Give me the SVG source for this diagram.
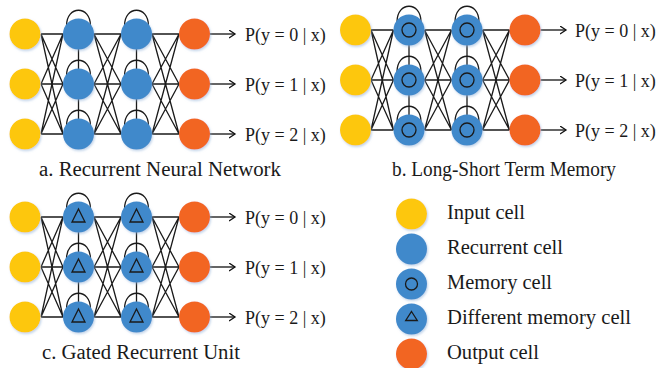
<svg xmlns="http://www.w3.org/2000/svg" width="657" height="368" viewBox="0 0 657 368">
<defs>
<filter id="sh" x="-30%" y="-30%" width="160%" height="160%">
<feDropShadow dx="1" dy="1.5" stdDeviation="1.2" flood-color="#8fb0d8" flood-opacity="0.55"/>
</filter>
<marker id="ah" markerUnits="userSpaceOnUse" markerWidth="10" markerHeight="10" refX="6.5" refY="4.5" orient="auto">
<path d="M0.5,0.5 L6.5,4.5 L0.5,8.5" fill="none" stroke="#111" stroke-width="1.3"/>
</marker>
</defs>
<style>
.in{fill:#FDC70C;filter:url(#sh)}
.rc{fill:#4189CB;filter:url(#sh)}
.out{fill:#F26522;filter:url(#sh)}
.ln{fill:none;stroke:#1a1a1a;stroke-width:1.3}
.sym{fill:none;stroke:#1a1a1a;stroke-width:1.3}
.ar{fill:none;stroke:#111;stroke-width:1.3;marker-end:url(#ah)}
.lab{font-family:"Liberation Serif","Times New Roman",serif;font-size:18px;fill:#1a1a1a}
.cap{font-family:"Liberation Serif","Times New Roman",serif;font-size:20px;fill:#1a1a1a}
</style>
<rect width="657" height="368" fill="#fff"/>

<g id="connectors">
<!-- panel a -->
<path class="ln" d="M41,34L63,34M41,34L63,84M41,34L63,134M41,84L63,34M41,84L63,84M41,84L63,134M41,134L63,34M41,134L63,84M41,134L63,134"/>
<path class="ln" d="M94,34L121,34M94,34L121,84M94,34L121,134M94,84L121,34M94,84L121,84M94,84L121,134M94,134L121,34M94,134L121,84M94,134L121,134"/>
<path class="ln" d="M152,34L179,34M152,34L179,84M152,34L179,134M152,84L179,34M152,84L179,84M152,84L179,134M152,134L179,34M152,134L179,84M152,134L179,134"/>
<path class="ln" d="M66.5,26C66.5,5 90.5,5 90.5,26M66.5,76C66.5,55 90.5,55 90.5,76M66.5,126C66.5,105 90.5,105 90.5,126M124.5,26C124.5,5 148.5,5 148.5,26M124.5,76C124.5,55 148.5,55 148.5,76M124.5,126C124.5,105 148.5,105 148.5,126"/>
<path class="ln" d="M78.5,49V69M78.5,99V119M136.5,49V69M136.5,99V119"/>
<path class="ar" d="M210,34H235"/>
<path class="ar" d="M210,84H235"/>
<path class="ar" d="M210,134H235"/>
<!-- panel b -->
<path class="ln" d="M371,30L393.5,30M371,30L393.5,80M371,30L393.5,130M371,80L393.5,30M371,80L393.5,80M371,80L393.5,130M371,130L393.5,30M371,130L393.5,80M371,130L393.5,130"/>
<path class="ln" d="M424.5,30L451.5,30M424.5,30L451.5,80M424.5,30L451.5,130M424.5,80L451.5,30M424.5,80L451.5,80M424.5,80L451.5,130M424.5,130L451.5,30M424.5,130L451.5,80M424.5,130L451.5,130"/>
<path class="ln" d="M482.5,30L509.5,30M482.5,30L509.5,80M482.5,30L509.5,130M482.5,80L509.5,30M482.5,80L509.5,80M482.5,80L509.5,130M482.5,130L509.5,30M482.5,130L509.5,80M482.5,130L509.5,130"/>
<path class="ln" d="M397,22C397,1 421,1 421,22M397,72C397,51 421,51 421,72M397,122C397,101 421,101 421,122M455,22C455,1 479,1 479,22M455,72C455,51 479,51 479,72M455,122C455,101 479,101 479,122"/>
<path class="ln" d="M409,45V65M409,95V115M467,45V65M467,95V115"/>
<path class="ar" d="M540.5,30H566"/>
<path class="ar" d="M540.5,80H566"/>
<path class="ar" d="M540.5,130H566"/>
<!-- panel c -->
<path class="ln" d="M41,217L63,217M41,217L63,267M41,217L63,317M41,267L63,217M41,267L63,267M41,267L63,317M41,317L63,217M41,317L63,267M41,317L63,317"/>
<path class="ln" d="M94,217L121,217M94,217L121,267M94,217L121,317M94,267L121,217M94,267L121,267M94,267L121,317M94,317L121,217M94,317L121,267M94,317L121,317"/>
<path class="ln" d="M152,217L179,217M152,217L179,267M152,217L179,317M152,267L179,217M152,267L179,267M152,267L179,317M152,317L179,217M152,317L179,267M152,317L179,317"/>
<path class="ln" d="M66.5,209C66.5,188 90.5,188 90.5,209M66.5,259C66.5,238 90.5,238 90.5,259M66.5,309C66.5,288 90.5,288 90.5,309M124.5,209C124.5,188 148.5,188 148.5,209M124.5,259C124.5,238 148.5,238 148.5,259M124.5,309C124.5,288 148.5,288 148.5,309"/>
<path class="ln" d="M78.5,232V252M78.5,282V302M136.5,232V252M136.5,282V302"/>
<path class="ar" d="M210,217H235"/>
<path class="ar" d="M210,267H235"/>
<path class="ar" d="M210,317H235"/>
</g>

<!-- panel a nodes -->
<g id="a-in0"><circle class="in" cx="25" cy="34" r="15.5"/></g>
<g id="a-in1"><circle class="in" cx="25" cy="84" r="15.5"/></g>
<g id="a-in2"><circle class="in" cx="25" cy="134" r="15.5"/></g>
<g id="a-h10"><circle class="rc" cx="78.5" cy="34" r="15.5"/></g>
<g id="a-h11"><circle class="rc" cx="78.5" cy="84" r="15.5"/></g>
<g id="a-h12"><circle class="rc" cx="78.5" cy="134" r="15.5"/></g>
<g id="a-h20"><circle class="rc" cx="136.5" cy="34" r="15.5"/></g>
<g id="a-h21"><circle class="rc" cx="136.5" cy="84" r="15.5"/></g>
<g id="a-h22"><circle class="rc" cx="136.5" cy="134" r="15.5"/></g>
<g id="a-out0"><circle class="out" cx="194.5" cy="34" r="15.5"/></g>
<g id="a-out1"><circle class="out" cx="194.5" cy="84" r="15.5"/></g>
<g id="a-out2"><circle class="out" cx="194.5" cy="134" r="15.5"/></g>
<g id="a-labels">
<text class="lab" x="245" y="40.5">P(y = 0 | x)</text>
<text class="lab" x="245" y="90.5">P(y = 1 | x)</text>
<text class="lab" x="245" y="140.5">P(y = 2 | x)</text>
<text class="cap" x="39" y="176" textLength="242" lengthAdjust="spacingAndGlyphs">a. Recurrent Neural Network</text>
</g>

<!-- panel b nodes -->
<g id="b-in0"><circle class="in" cx="355.5" cy="30" r="15.5"/></g>
<g id="b-in1"><circle class="in" cx="355.5" cy="80" r="15.5"/></g>
<g id="b-in2"><circle class="in" cx="355.5" cy="130" r="15.5"/></g>
<g id="b-h10"><circle class="rc" cx="409" cy="30" r="15.5"/><circle class="sym" cx="409" cy="30" r="7"/></g>
<g id="b-h11"><circle class="rc" cx="409" cy="80" r="15.5"/><circle class="sym" cx="409" cy="80" r="7"/></g>
<g id="b-h12"><circle class="rc" cx="409" cy="130" r="15.5"/><circle class="sym" cx="409" cy="130" r="7"/></g>
<g id="b-h20"><circle class="rc" cx="467" cy="30" r="15.5"/><circle class="sym" cx="467" cy="30" r="7"/></g>
<g id="b-h21"><circle class="rc" cx="467" cy="80" r="15.5"/><circle class="sym" cx="467" cy="80" r="7"/></g>
<g id="b-h22"><circle class="rc" cx="467" cy="130" r="15.5"/><circle class="sym" cx="467" cy="130" r="7"/></g>
<g id="b-out0"><circle class="out" cx="525" cy="30" r="15.5"/></g>
<g id="b-out1"><circle class="out" cx="525" cy="80" r="15.5"/></g>
<g id="b-out2"><circle class="out" cx="525" cy="130" r="15.5"/></g>
<g id="b-labels">
<text class="lab" x="575" y="36.5">P(y = 0 | x)</text>
<text class="lab" x="575" y="86.5">P(y = 1 | x)</text>
<text class="lab" x="575" y="136.5">P(y = 2 | x)</text>
<text class="cap" x="392" y="176" textLength="224" lengthAdjust="spacingAndGlyphs">b. Long-Short Term Memory</text>
</g>

<!-- panel c nodes -->
<g id="c-in0"><circle class="in" cx="25" cy="217" r="15.5"/></g>
<g id="c-in1"><circle class="in" cx="25" cy="267" r="15.5"/></g>
<g id="c-in2"><circle class="in" cx="25" cy="317" r="15.5"/></g>
<g id="c-h10"><circle class="rc" cx="78.5" cy="217" r="15.5"/><path class="sym" d="M78.5,209L85,222H72Z"/></g>
<g id="c-h11"><circle class="rc" cx="78.5" cy="267" r="15.5"/><path class="sym" d="M78.5,259L85,272H72Z"/></g>
<g id="c-h12"><circle class="rc" cx="78.5" cy="317" r="15.5"/><path class="sym" d="M78.5,309L85,322H72Z"/></g>
<g id="c-h20"><circle class="rc" cx="136.5" cy="217" r="15.5"/><path class="sym" d="M136.5,209L143,222H130Z"/></g>
<g id="c-h21"><circle class="rc" cx="136.5" cy="267" r="15.5"/><path class="sym" d="M136.5,259L143,272H130Z"/></g>
<g id="c-h22"><circle class="rc" cx="136.5" cy="317" r="15.5"/><path class="sym" d="M136.5,309L143,322H130Z"/></g>
<g id="c-out0"><circle class="out" cx="194.5" cy="217" r="15.5"/></g>
<g id="c-out1"><circle class="out" cx="194.5" cy="267" r="15.5"/></g>
<g id="c-out2"><circle class="out" cx="194.5" cy="317" r="15.5"/></g>
<g id="c-labels">
<text class="lab" x="245" y="223.5">P(y = 0 | x)</text>
<text class="lab" x="245" y="273.5">P(y = 1 | x)</text>
<text class="lab" x="245" y="323.5">P(y = 2 | x)</text>
<text class="cap" x="42" y="359" textLength="198" lengthAdjust="spacingAndGlyphs">c. Gated Recurrent Unit</text>
</g>

<!-- legend -->
<g id="legend-input"><circle class="in" cx="411.5" cy="214" r="15.5"/><text class="cap" x="447" y="219" textLength="78" lengthAdjust="spacingAndGlyphs">Input cell</text></g>
<g id="legend-recurrent"><circle class="rc" cx="411.5" cy="249" r="15.5"/><text class="cap" x="447" y="254" textLength="116" lengthAdjust="spacingAndGlyphs">Recurrent cell</text></g>
<g id="legend-memory"><circle class="rc" cx="411.5" cy="284" r="15.5"/><circle class="sym" cx="411.5" cy="284" r="6"/><text class="cap" x="447" y="289" textLength="105" lengthAdjust="spacingAndGlyphs">Memory cell</text></g>
<g id="legend-different"><circle class="rc" cx="411.5" cy="319" r="15.5"/><path class="sym" d="M411.5,311.5L417.3,320.5H405.7Z"/><text class="cap" x="447" y="324" textLength="184" lengthAdjust="spacingAndGlyphs">Different memory cell</text></g>
<g id="legend-output"><circle class="out" cx="411.5" cy="354" r="15.5"/><text class="cap" x="447" y="359" textLength="92" lengthAdjust="spacingAndGlyphs">Output cell</text></g>
</svg>
